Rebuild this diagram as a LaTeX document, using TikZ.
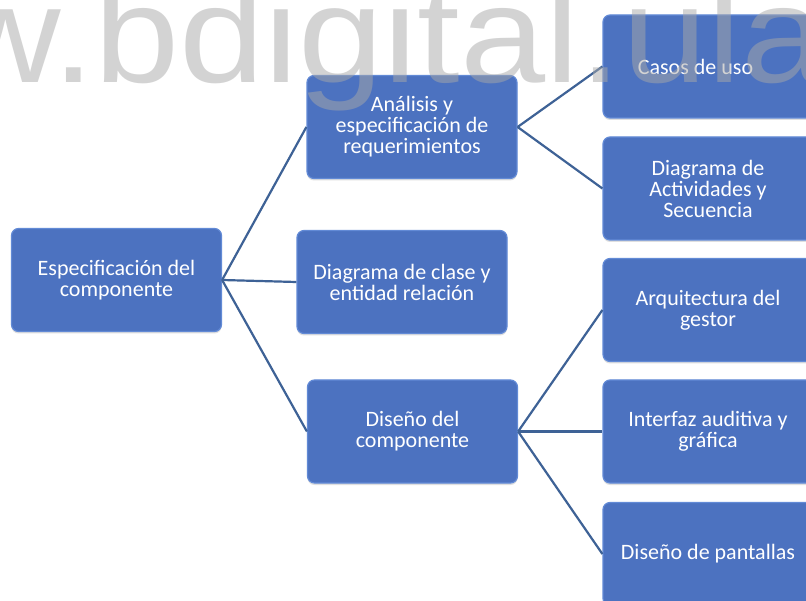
\documentclass[tikz,border=0pt]{standalone}
\usepackage{fontspec}
\setmainfont{Carlito}
\newfontfamily\wmfont{Liberation Sans}
\usetikzlibrary{shadows}
\definecolor{boxfill}{RGB}{76,114,192}
\definecolor{boxedge}{RGB}{98,138,214}
\definecolor{linkcol}{RGB}{62,98,150}
\definecolor{wmcol}{RGB}{168,168,168}
\tikzset{
  sbox/.style={rectangle, rounded corners=7pt, fill=boxfill, draw=boxedge, line width=1.2pt,
    minimum width=210pt, minimum height=103pt, align=center, text=white,
    font=\fontsize{22}{21}\selectfont, inner sep=2pt,
    drop shadow={opacity=0.25, shadow xshift=0pt, shadow yshift=-2pt}},
  link/.style={draw=linkcol, line width=2.2pt},
}
\begin{document}
\begin{tikzpicture}[x=1pt,y=-1pt]
\useasboundingbox (0,0) rectangle (806,601);
\fill[white] (0,0) rectangle (806,601);
\node[sbox] (root) at (116.5,280) {Especificación del\\componente};
\node[sbox] (ana) at (412,127) {Análisis y\\especificación de\\requerimientos};
\node[sbox] (dia) at (402,282) {Diagrama de clase y\\entidad relación};
\node[sbox] (dis) at (412.5,431.5) {Diseño del\\componente};
\node[sbox] (cas) at (708,66.5) {Casos de uso\hspace*{25pt}};
\node[sbox] (act) at (708,188.5) {Diagrama de\\Actividades y\\Secuencia};
\node[sbox] (arq) at (708,310) {Arquitectura del\\gestor};
\node[sbox] (int) at (708,431.5) {Interfaz auditiva y\\gráfica};
\node[sbox] (pan) at (708,554) {Diseño de pantallas};
\draw[link] (root.east) -- (ana.west);
\draw[link] (root.east) -- (dia.west);
\draw[link] (root.east) -- (dis.west);
\draw[link] (ana.east) -- (cas.west);
\draw[link] (ana.east) -- (act.west);
\draw[link] (dis.east) -- (arq.west);
\draw[link] (dis.east) -- (int.west);
\draw[link] (dis.east) -- (pan.west);
\node[anchor=base west, inner sep=0pt, text=wmcol, opacity=0.5, yscale=0.9,
  font=\wmfont\fontsize{153}{153}\selectfont] (wm) at (-50,83) {w.bdigital.ula};
\end{tikzpicture}
\end{document}
